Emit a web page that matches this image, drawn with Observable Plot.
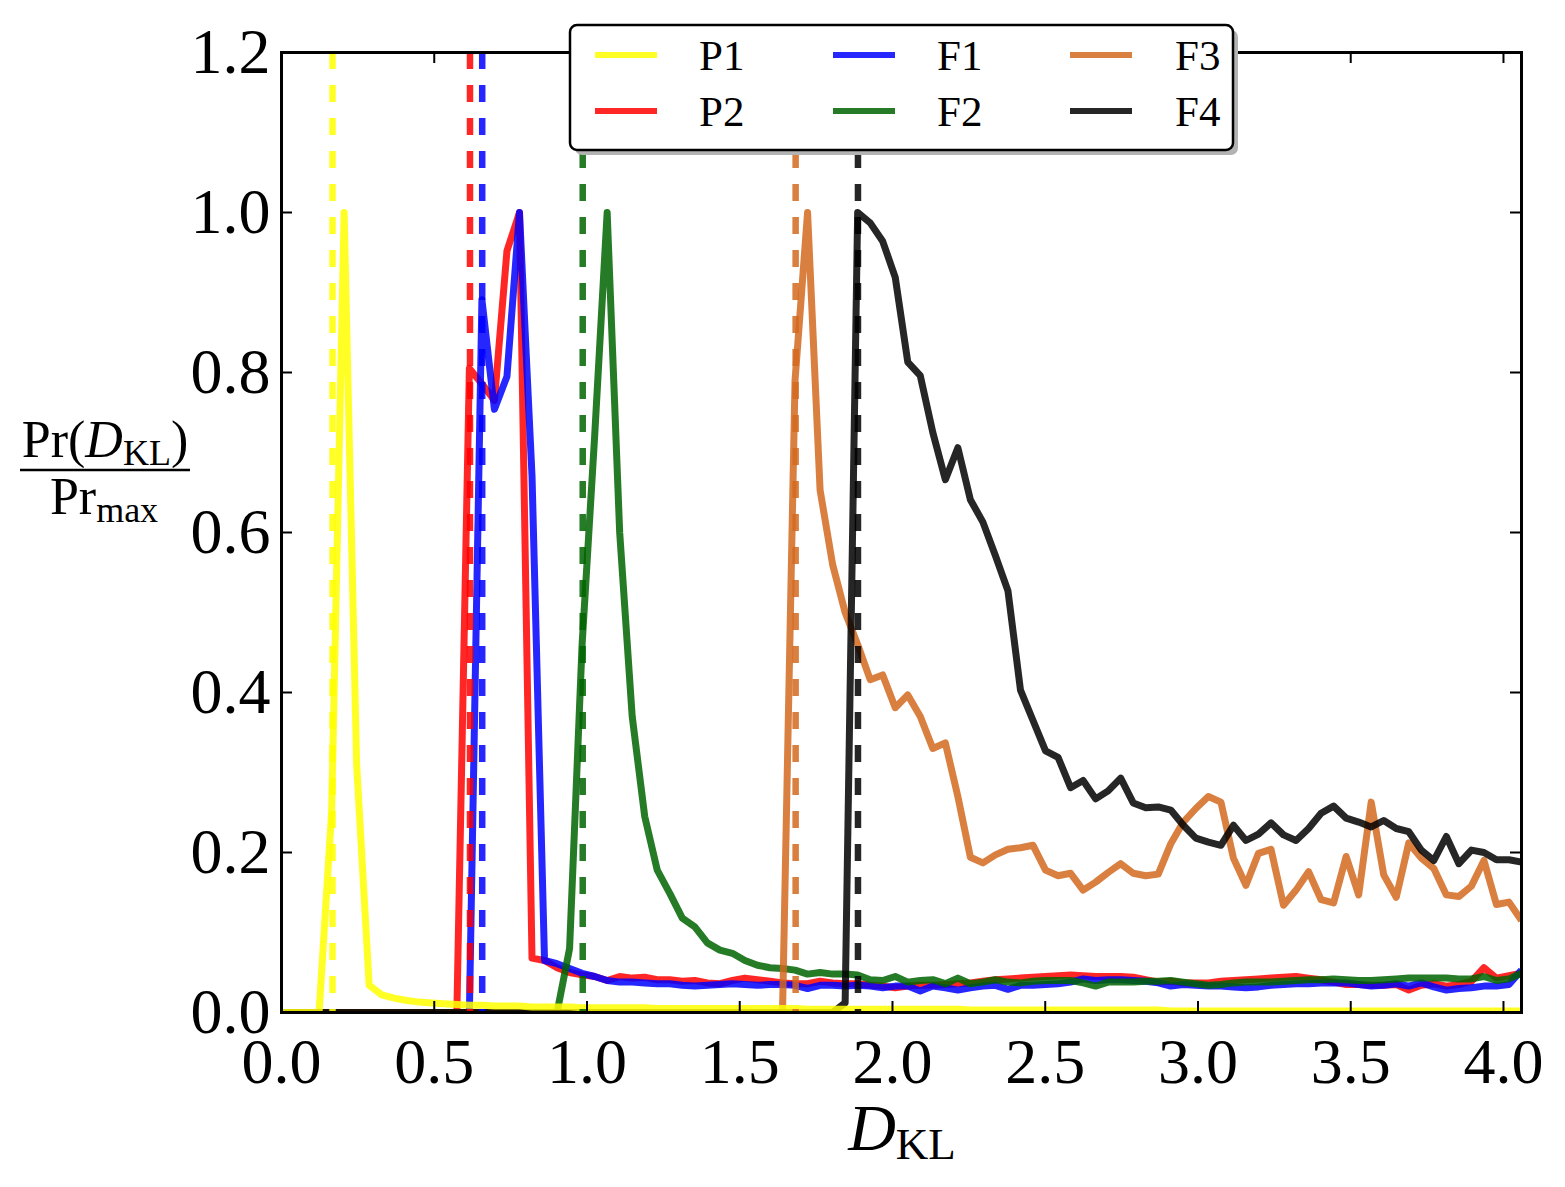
<!DOCTYPE html>
<html>
<head>
<meta charset="utf-8">
<script src="https://cdn.jsdelivr.net/npm/d3@7"></script>
<script src="https://cdn.jsdelivr.net/npm/@observablehq/plot@0.6"></script>
<style>
  html, body { margin: 0; padding: 0; background: #ffffff; }
  #chart { width: 1565px; height: 1187px; }
</style>
</head>
<body>
<div id="chart"></div>
<script>
// ---------------- data ----------------
const binStep = 0.041;          // width of a D_KL bin
const binCount = 100;
const seriesNames  = ["P1", "P2", "F1", "F2", "F3", "F4"];
const seriesColors = ["#ffff00", "#ff0000", "#0000ff", "#006400", "#d2691e", "#000000"];

const P1 = [0,0,0,0,0.25,1.0,0.31,0.034,0.022,0.018,
  0.015,0.013,0.012,0.011,0.010,0.009,0.009,0.008,0.008,0.008,
  0.007,0.007,0.007,0.007,0.006,0.006,0.006,0.006,0.006,0.006,
  0.005,0.005,0.005,0.005,0.005,0.005,0.005,0.005,0.005,0.005,
  0.005,0.005,0.004,0.004,0.004,0.004,0.004,0.004,0.004,0.004,
  0.004,0.004,0.004,0.004,0.004,0.003,0.003,0.003,0.003,0.003,
  0.003,0.003,0.003,0.003,0.003,0.003,0.003,0.003,0.003,0.003,
  0.003,0.002,0.002,0.002,0.002,0.002,0.002,0.002,0.002,0.002,
  0.002,0.002,0.002,0.002,0.002,0.002,0.002,0.002,0.002,0.002,
  0.002,0.002,0.002,0.002,0.002,0.002,0.002,0.002,0.002,0.002];

const P2 = [0,0,0,0,0,0,0,0,0,0,0,0,0,0,0,
  0.805,0.786,0.765,0.952,1.0,
  0.068,0.065,0.056,0.050,0.047,0.045,0.040,0.045,0.043,0.044,
  0.041,0.041,0.039,0.040,0.037,0.036,0.040,0.043,0.041,0.039,
  0.037,0.036,0.036,0.039,0.037,0.036,0.036,0.034,0.033,0.031,
  0.033,0.034,0.034,0.035,0.036,0.037,0.039,0.041,0.042,0.043,
  0.044,0.045,0.046,0.047,0.046,0.045,0.045,0.045,0.044,0.041,
  0.038,0.039,0.037,0.037,0.037,0.039,0.040,0.041,0.042,0.043,
  0.044,0.045,0.043,0.041,0.038,0.035,0.035,0.034,0.034,0.035,
  0.028,0.034,0.036,0.033,0.035,0.039,0.056,0.043,0.046,0.049];

const F1 = [0,0,0,0,0,0,0,0,0,0,0,0,0,0,0,0,
  0.891,0.754,0.795,1.0,
  0.671,0.065,0.061,0.055,0.049,0.045,0.040,0.038,0.038,0.037,
  0.036,0.036,0.034,0.033,0.034,0.035,0.036,0.035,0.034,0.035,
  0.035,0.034,0.030,0.034,0.034,0.033,0.034,0.033,0.031,0.033,
  0.033,0.027,0.033,0.031,0.028,0.031,0.033,0.034,0.029,0.034,
  0.034,0.035,0.036,0.038,0.042,0.040,0.041,0.041,0.040,0.039,
  0.037,0.033,0.035,0.034,0.033,0.033,0.032,0.031,0.032,0.034,
  0.035,0.036,0.036,0.037,0.037,0.037,0.035,0.033,0.034,0.036,
  0.033,0.037,0.032,0.028,0.030,0.031,0.033,0.033,0.035,0.053];

const F2 = [0,0,0,0,0,0,0,0,0,0,0,0,0,0,0,0,0,0,0,0,0,0,0,
  0.08,0.46,0.72,1.0,0.60,0.37,0.245,
  0.178,0.149,0.118,0.107,0.087,0.078,0.074,0.065,0.059,0.056,
  0.055,0.053,0.048,0.050,0.048,0.048,0.047,0.041,0.040,0.045,
  0.038,0.040,0.041,0.036,0.043,0.036,0.038,0.041,0.038,0.037,
  0.039,0.040,0.040,0.040,0.037,0.033,0.038,0.038,0.038,0.039,
  0.039,0.040,0.038,0.036,0.034,0.035,0.037,0.038,0.038,0.038,
  0.039,0.040,0.041,0.041,0.042,0.041,0.040,0.040,0.041,0.042,
  0.043,0.043,0.043,0.043,0.042,0.042,0.045,0.040,0.042,0.049];

const F3 = [0,0,0,0,0,0,0,0,0,0,0,0,0,0,0,0,0,0,0,0,
  0,0,0,0,0,0,0,0,0,0,0,0,0,0,0,0,0,0,0,0,0,
  0.79,1.0,0.653,0.56,0.50,0.46,0.416,0.422,0.381,
  0.397,0.370,0.330,0.337,0.270,0.194,0.187,0.197,0.204,0.206,
  0.209,0.178,0.171,0.174,0.153,0.163,0.175,0.186,0.174,0.171,
  0.173,0.211,0.238,0.255,0.270,0.263,0.193,0.159,0.199,0.204,
  0.134,0.153,0.176,0.141,0.137,0.195,0.147,0.263,0.172,0.144,
  0.212,0.193,0.180,0.147,0.145,0.158,0.190,0.135,0.138,0.115];

const F4 = [0,0,0,0,0,0,0,0,0,0,0,0,0,0,0,0,0,0,0,0,
  0,0,0,0,0,0,0,0,0,0,0,0,0,0,0,0,0,0,0,0,0,0,0,0,0,
  0.012,1.0,0.987,0.964,0.919,
  0.813,0.796,0.725,0.666,0.706,0.641,0.613,0.571,0.527,0.403,
  0.365,0.327,0.319,0.281,0.290,0.267,0.277,0.293,0.262,0.256,
  0.257,0.253,0.234,0.218,0.213,0.209,0.234,0.215,0.223,0.237,
  0.222,0.215,0.230,0.249,0.258,0.243,0.238,0.232,0.240,0.230,
  0.226,0.203,0.190,0.220,0.186,0.203,0.200,0.191,0.191,0.188];

// vertical dashed markers (one per series, same order as seriesNames)
const markerX = [0.167, 0.617, 0.657, 0.986, 1.683, 1.887];

const xTicks = [0.0, 0.5, 1.0, 1.5, 2.0, 2.5, 3.0, 3.5, 4.0];
const yTicks = [0.0, 0.2, 0.4, 0.6, 0.8, 1.0, 1.2];
const xDomain = [0, 4.059];
const yDomain = [0, 1.2];

// ---------------- build table ----------------
const seriesValues = [P1, P2, F1, F2, F3, F4];
const binX = d3.range(binCount).map(i => +(i * binStep).toFixed(3));
const table = seriesNames.map((name, s) =>
  seriesValues[s].map((v, i) => ({series: name, x: binX[i], y: v})));
const markerTable = seriesNames.map((name, s) => ({series: name, x: markerX[s]}));
const colorOf = Object.fromEntries(seriesNames.map((n, i) => [n, seriesColors[i]]));

// ---------------- layout ----------------
const W = 1565, H = 1187;
const mL = 281, mR = 44, mT = 52, mB = 175;
const frameW = W - mL - mR, frameH = H - mT - mB;
const tickLen = 11;
const serif = "'Liberation Serif', 'DejaVu Serif', serif";

// draw order: P2, F1, F2, F3, F4, then P1 on top
const drawOrder = ["P2", "F1", "F2", "F3", "F4", "P1"];
const lineMarks = drawOrder.map(name => {
  const s = seriesNames.indexOf(name);
  return Plot.line(table[s], {
    x: "x", y: "y", stroke: colorOf[name], strokeWidth: 7,
    strokeOpacity: 0.85, strokeLinejoin: "round", strokeLinecap: "butt", clip: true
  });
});

const chart = Plot.plot({
  width: W, height: H,
  marginLeft: mL, marginRight: mR, marginTop: mT, marginBottom: mB,
  style: {fontFamily: serif, fontSize: "64px", color: "black", background: "white"},
  x: {domain: xDomain, label: null},
  y: {domain: yDomain, label: null},
  marks: [
    ...lineMarks,
    Plot.ruleX(markerTable, {
      x: "x", stroke: d => colorOf[d.series], strokeWidth: 6.5, strokeOpacity: 0.85,
      strokeDasharray: "17,16"
    }),
    // inward ticks on all four sides
    Plot.tickX(xTicks, {x: d => d, insetTop: frameH - tickLen, stroke: "black", strokeWidth: 2}),
    Plot.tickX(xTicks, {x: d => d, insetBottom: frameH - tickLen, stroke: "black", strokeWidth: 2}),
    Plot.tickY(yTicks, {y: d => d, insetRight: frameW - tickLen, stroke: "black", strokeWidth: 2}),
    Plot.tickY(yTicks, {y: d => d, insetLeft: frameW - tickLen, stroke: "black", strokeWidth: 2}),
    Plot.axisX({ticks: xTicks, tickFormat: d3.format(".1f"), tickSize: 0, tickPadding: 25, label: null}),
    Plot.axisY({ticks: yTicks, tickFormat: d3.format(".1f"), tickSize: 0, tickPadding: 11, label: null}),
    Plot.frame({stroke: "black", strokeWidth: 3})
  ]
});

document.getElementById("chart").appendChild(chart);

// ---------------- titles & legend (svg overlay) ----------------
const svg = d3.select(chart);

// x-axis title: D_KL
const xt = svg.append("text")
  .attr("x", 902).attr("y", 1150)
  .attr("text-anchor", "middle")
  .style("font-family", serif).style("font-size", "66px").attr("fill", "black");
xt.append("tspan").style("font-style", "italic").text("D");
xt.append("tspan").attr("dy", 9).style("font-size", "45px").text("KL");

// y-axis title: fraction Pr(D_KL) / Pr_max
const yNum = svg.append("text")
  .attr("x", 105).attr("y", 457)
  .attr("text-anchor", "middle")
  .style("font-family", serif).style("font-size", "52px").attr("fill", "black");
yNum.append("tspan").text("Pr(");
yNum.append("tspan").style("font-style", "italic").text("D");
yNum.append("tspan").attr("dy", 8).style("font-size", "36px").text("KL");
yNum.append("tspan").attr("dy", -8).text(")");
svg.append("line")
  .attr("x1", 20).attr("x2", 190).attr("y1", 470).attr("y2", 470)
  .attr("stroke", "black").attr("stroke-width", 2.5);
const yDen = svg.append("text")
  .attr("x", 104).attr("y", 514)
  .attr("text-anchor", "middle")
  .style("font-family", serif).style("font-size", "52px").attr("fill", "black");
yDen.append("tspan").text("Pr");
yDen.append("tspan").attr("dy", 8).style("font-size", "36px").text("max");

// legend
const lg = svg.append("g");
lg.append("rect").attr("x", 575).attr("y", 30).attr("width", 663).attr("height", 125)
  .attr("rx", 7).attr("fill", "#b3b3b3");
lg.append("rect").attr("x", 570).attr("y", 25).attr("width", 663).attr("height", 125)
  .attr("rx", 7).attr("fill", "white").attr("stroke", "black").attr("stroke-width", 2.5);
const legendCols = [["P1", "P2"], ["F1", "F2"], ["F3", "F4"]];
const colLineX = [595, 833, 1070];
const colTextX = [699, 937, 1175];
const rowY = [55, 111];
legendCols.forEach((col, c) => {
  col.forEach((name, r) => {
    lg.append("line")
      .attr("x1", colLineX[c]).attr("x2", colLineX[c] + 62)
      .attr("y1", rowY[r]).attr("y2", rowY[r])
      .attr("stroke", colorOf[name]).attr("stroke-opacity", 0.85).attr("stroke-width", 6);
    lg.append("text")
      .attr("x", colTextX[c]).attr("y", rowY[r] + 15)
      .attr("text-anchor", "start")
      .style("font-family", serif).style("font-size", "43px").attr("fill", "black")
      .text(name);
  });
});
</script>
</body>
</html>
